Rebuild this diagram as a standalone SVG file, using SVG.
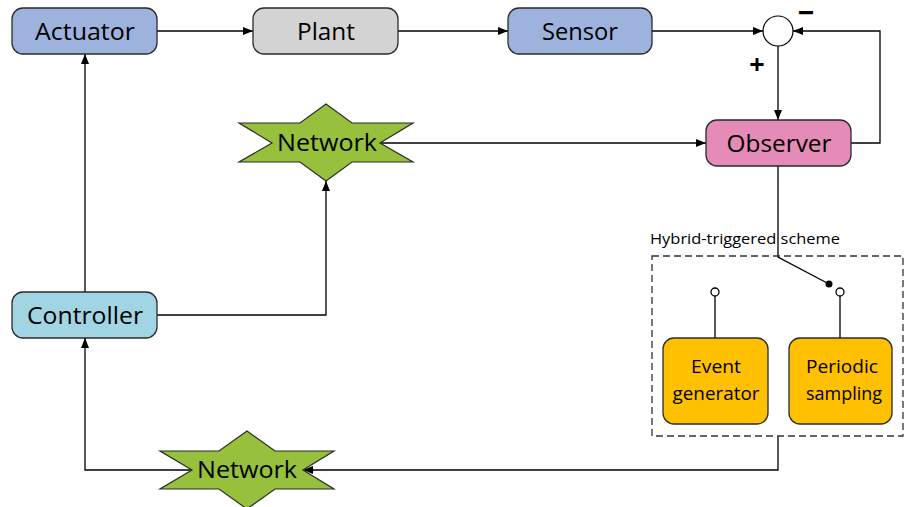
<svg xmlns="http://www.w3.org/2000/svg" width="906" height="507" viewBox="0 0 906 507">
  <defs>
    <marker id="arrow" viewBox="0 0 10 8" refX="10" refY="4" markerWidth="10" markerHeight="8" markerUnits="userSpaceOnUse" orient="auto">
      <path d="M0,0 L10,4 L0,8 Z" fill="#000"/>
    </marker>
    <style>
      .box { stroke: #2b2b2b; stroke-width: 1.3; }
      .lbl { font-family: "Open Sans", "Liberation Sans", sans-serif; font-size: 24px; fill: #000; text-anchor: middle; }
      .small { font-family: "Open Sans", "Liberation Sans", sans-serif; font-size: 19px; fill: #000; text-anchor: middle; }
      .cap { font-family: "Open Sans", "Liberation Sans", sans-serif; font-size: 15px; fill: #000; }
      .sign { font-family: "Open Sans", "Liberation Sans", sans-serif; font-weight: bold; fill: #000; text-anchor: middle; }
      .wire { fill: none; stroke: #000; stroke-width: 1.3; }
      .net { fill: #97c13c; stroke: #2b2b2b; stroke-width: 1.2; }
    </style>
  </defs>

  <!-- connectors -->
  <g id="connectors">
    <path class="wire" d="M157,31 H253" marker-end="url(#arrow)"/>
    <path class="wire" d="M398,31 H508" marker-end="url(#arrow)"/>
    <path class="wire" d="M652,31 H763" marker-end="url(#arrow)"/>
    <path class="wire" d="M778,46 V120" marker-end="url(#arrow)"/>
    <path class="wire" d="M851,143 H880 V31 H793" marker-end="url(#arrow)"/>
    <path class="wire" d="M381,143 H706" marker-end="url(#arrow)"/>
    <path class="wire" d="M157,315 H326 V181" marker-end="url(#arrow)"/>
    <path class="wire" d="M85,292 V54" marker-end="url(#arrow)"/>
    <path class="wire" d="M192,470 H85 V338" marker-end="url(#arrow)"/>
    <path class="wire" d="M778,436 V470 H303" marker-end="url(#arrow)"/>
    <!-- switch of the hybrid-triggered scheme -->
    <path class="wire" d="M778,166 V257 L829,284"/>
    <circle cx="829" cy="284" r="3.5" fill="#000"/>
    <path class="wire" d="M715,296 V338"/>
    <path class="wire" d="M840,296 V338"/>
    <circle cx="715" cy="292" r="4" fill="#fff" stroke="#000" stroke-width="1.3"/>
    <circle cx="840" cy="292" r="4" fill="#fff" stroke="#000" stroke-width="1.3"/>
  </g>

  <g id="actuator">
    <rect class="box" x="12" y="8" width="145" height="46" rx="11" fill="#9db3de"/>
    <text class="lbl" x="85" y="40" textLength="100" lengthAdjust="spacingAndGlyphs">Actuator</text>
  </g>
  <g id="plant">
    <rect class="box" x="253" y="8" width="145" height="46" rx="11" fill="#d3d3d3"/>
    <text class="lbl" x="326" y="40" textLength="58" lengthAdjust="spacingAndGlyphs">Plant</text>
  </g>
  <g id="sensor">
    <rect class="box" x="508" y="8" width="144" height="46" rx="11" fill="#9db3de"/>
    <text class="lbl" x="580" y="40" textLength="76" lengthAdjust="spacingAndGlyphs">Sensor</text>
  </g>
  <g id="sum">
    <circle cx="778" cy="31" r="15" fill="#fff" stroke="#000" stroke-width="1.2"/>
    <!-- minus sign thickened with a stroke so it stays inside the top edge -->
    <text class="sign" x="806" y="16" font-size="13" stroke="#000" stroke-width="2">—</text>
    <text class="sign" x="757" y="74" font-size="27">+</text>
  </g>
  <g id="observer">
    <rect class="box" x="706" y="120" width="145" height="46" rx="11" fill="#e48bb7"/>
    <text class="lbl" x="779" y="152" textLength="105" lengthAdjust="spacingAndGlyphs">Observer</text>
  </g>
  <g id="network-top">
    <path class="net" d="M326,104 L352,123 L413,123 L380,143 L413,162 L352,162 L326,181 L300,162 L239,162 L272,143 L239,123 L300,123 Z"/>
    <text class="lbl" x="327" y="151" textLength="100" lengthAdjust="spacingAndGlyphs">Network</text>
  </g>
  <g id="controller">
    <rect class="box" x="12" y="292" width="145" height="46" rx="11" fill="#a1d5e3"/>
    <text class="lbl" x="85" y="324" textLength="116" lengthAdjust="spacingAndGlyphs">Controller</text>
  </g>
  <g id="network-bottom">
    <path class="net" d="M247,431 L275,451 L334,451 L303,470 L334,489 L275,489 L247,509 L219,489 L160,489 L192,470 L160,451 L219,451 Z"/>
    <text class="lbl" x="247" y="478" textLength="100" lengthAdjust="spacingAndGlyphs">Network</text>
  </g>
  <g id="hybrid-scheme">
    <text class="cap" x="650" y="244" textLength="190" lengthAdjust="spacingAndGlyphs">Hybrid-triggered scheme</text>
    <rect x="652" y="256" width="251" height="180" fill="none" stroke="#333" stroke-width="1.3" stroke-dasharray="7,4"/>
  </g>
  <g id="event-generator">
    <rect class="box" x="663" y="338" width="105" height="86" rx="11" fill="#ffc000"/>
    <text class="small" x="716" y="373" textLength="50" lengthAdjust="spacingAndGlyphs">Event</text>
    <text class="small" x="716" y="400" textLength="87" lengthAdjust="spacingAndGlyphs">generator</text>
  </g>
  <g id="periodic-sampling">
    <rect class="box" x="789" y="338" width="103" height="86" rx="11" fill="#ffc000"/>
    <text class="small" x="842" y="373" textLength="72" lengthAdjust="spacingAndGlyphs">Periodic</text>
    <text class="small" x="844" y="400" textLength="76" lengthAdjust="spacingAndGlyphs">sampling</text>
  </g>
</svg>
